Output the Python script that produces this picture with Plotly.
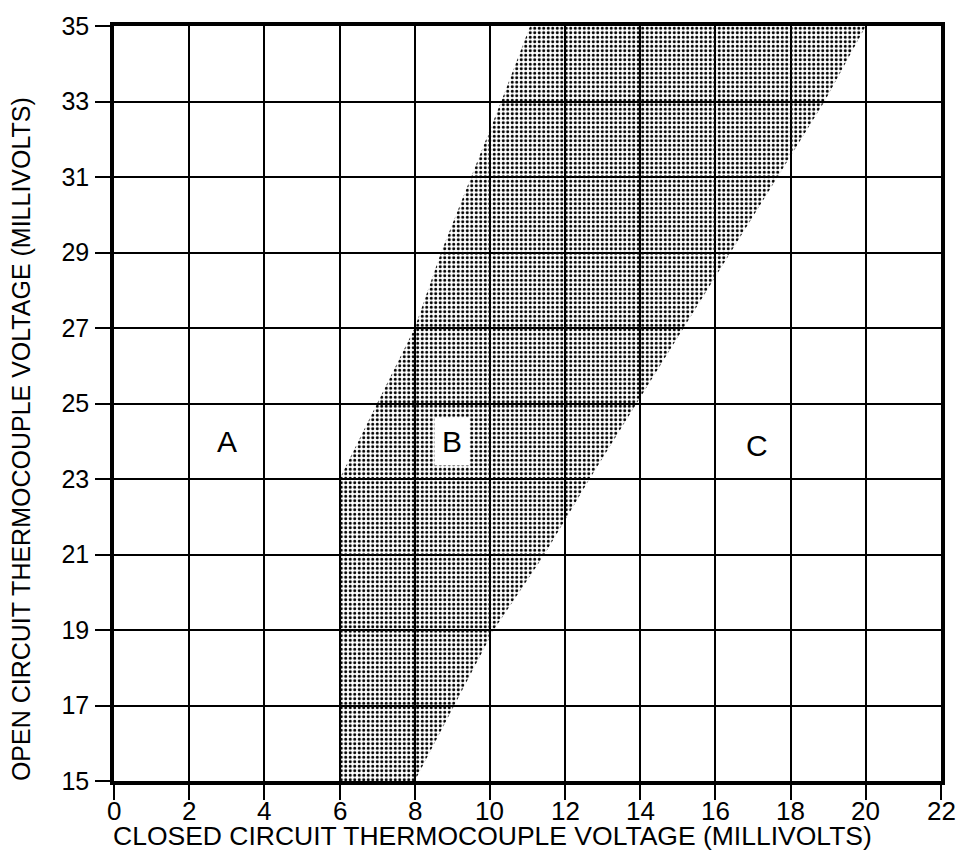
import plotly.graph_objects as go

# Axis ticks (millivolts)
x_ticks = [0, 2, 4, 6, 8, 10, 12, 14, 16, 18, 20, 22]
y_ticks = [15, 17, 19, 21, 23, 25, 27, 29, 31, 33, 35]

# Boundary of zone B: left edge (bottom to top)
left_edge_y = [15, 23, 25, 27, 29, 31, 33, 35]
left_edge_x = [6.0, 6.0, 7.0, 8.0, 8.7, 9.5, 10.3, 11.07]

# Right edge of zone B (bottom to top)
right_edge_y = [15, 17, 19, 21, 23, 25, 27, 29, 31, 33, 35]
right_edge_x = [8.0, 9.05, 10.1, 11.45, 12.65, 13.9, 15.15, 16.4, 17.65, 18.9, 20.0]

# Zone labels
zone_names = ["A", "B", "C"]
zone_x = [3.0, 9.0, 17.1]
zone_y = [24.0, 24.0, 23.9]

poly_x = left_edge_x + right_edge_x[::-1]
poly_y = left_edge_y + right_edge_y[::-1]

fig = go.Figure()
fig.add_trace(go.Scatter(
    x=poly_x, y=poly_y, mode="lines", fill="toself",
    line=dict(width=0, color="rgba(0,0,0,0)"),
    fillcolor="black",
    fillpattern=dict(shape=".", fgcolor="black", bgcolor="rgba(0,0,0,0)",
                     size=4.5, solidity=0.35, fillmode="replace"),
    hoverinfo="skip", showlegend=False,
))

for name, zx, zy in zip(zone_names, zone_x, zone_y):
    fig.add_annotation(
        x=zx, y=zy, text=name, showarrow=False,
        font=dict(family="Liberation Sans, Arial, sans-serif", size=30, color="black"),
        bgcolor="white" if name == "B" else "rgba(0,0,0,0)",
        borderpad=7,
    )

axis_common = dict(
    showgrid=True, gridcolor="black", gridwidth=1.5,
    showline=True, linecolor="black", linewidth=3.5, mirror=True,
    ticks="outside", ticklen=15, tickwidth=1.5, tickcolor="black",
    zeroline=False, fixedrange=True,
)

# x tick labels are placed just under the tick marks
fig.update_xaxes(
    range=[0, 22], tickmode="array", tickvals=x_ticks,
    showticklabels=False,
    **axis_common,
)
for v in x_ticks:
    fig.add_annotation(
        x=v, xref="x", yref="paper", y=-0.019,
        xanchor="center", yanchor="top", showarrow=False, borderpad=0,
        text=str(v),
        font=dict(family="Liberation Sans Narrow, Arial Narrow, Liberation Sans, sans-serif",
                  size=26, color="black"),
    )

fig.update_yaxes(
    range=[15, 35], tickmode="array", tickvals=y_ticks,
    ticktext=[str(v) for v in y_ticks],
    tickfont=dict(family="Liberation Sans, Arial, sans-serif", size=25, color="black"),
    ticklabelstandoff=1,
    **axis_common,
)

fig.add_annotation(
    xref="paper", yref="paper", x=0.458, y=-0.0725,
    xanchor="center", yanchor="middle", showarrow=False, borderpad=0,
    text="CLOSED CIRCUIT THERMOCOUPLE VOLTAGE (MILLIVOLTS)",
    font=dict(family="Liberation Sans, Arial, sans-serif", size=26.5, color="black"),
)
fig.add_annotation(
    xref="paper", yref="paper", x=-0.1125, y=0.4528,
    xanchor="center", yanchor="middle", showarrow=False, textangle=-90,
    text="OPEN CIRCUIT THERMOCOUPLE VOLTAGE (MILLIVOLTS)",
    font=dict(family="Liberation Sans, Arial, sans-serif", size=25, color="black"),
)

fig.update_layout(
    width=957, height=852,
    margin=dict(l=114, r=16, t=19, b=71),
    paper_bgcolor="white", plot_bgcolor="white",
    showlegend=False,
)

fig.write_html("out.html")
